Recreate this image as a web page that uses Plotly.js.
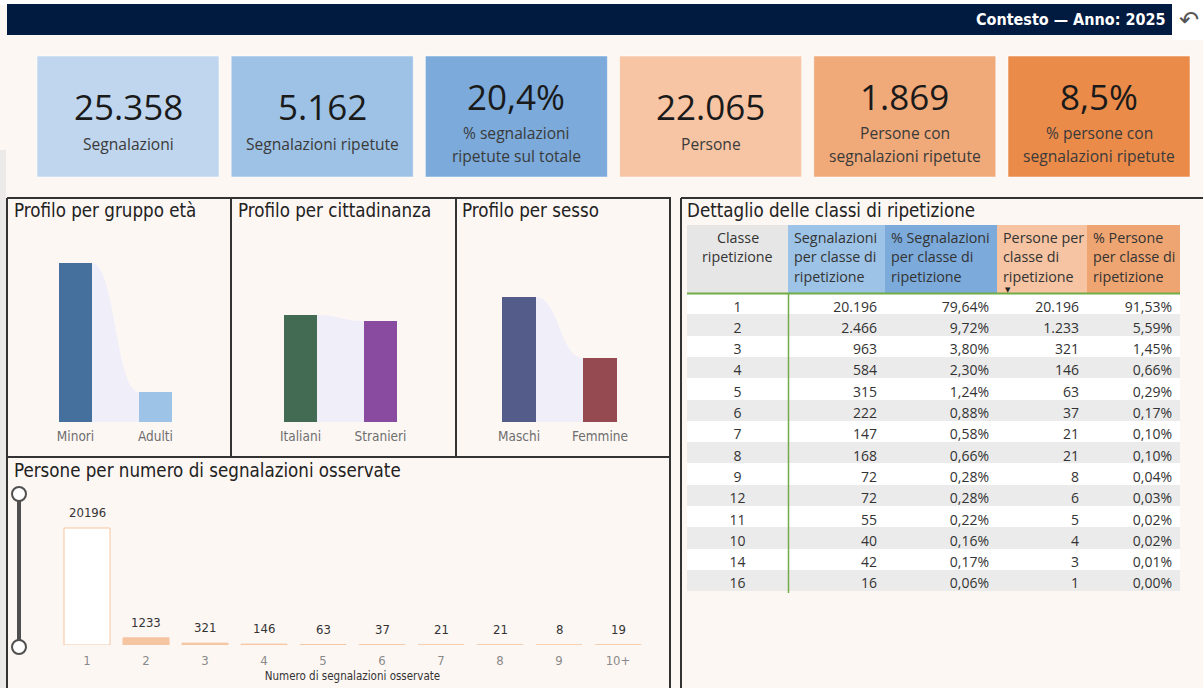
<!DOCTYPE html>
<html>
<head>
<meta charset="utf-8">
<script src="https://cdn.plot.ly/plotly-3.0.1.min.js"></script>
<style>
html,body{margin:0;padding:0;background:#FDF7F4;}
#chart{width:1203px;height:688px;}
</style>
</head>
<body>
<div id="chart"></div>
<script>
// ---------------- DATA ----------------
const headerTitle = 'Contesto — Anno: 2025';

const kpiValues = [25358, 5162, 20.4, 22065, 1869, 8.5];
const kpiKinds  = ['int', 'int', 'pct', 'int', 'int', 'pct'];
const kpiLabels = ['Segnalazioni', 'Segnalazioni ripetute', '% segnalazioni<br>ripetute sul totale',
                   'Persone', 'Persone con<br>segnalazioni ripetute', '% persone con<br>segnalazioni ripetute'];

const etaCat = ['Minori', 'Adulti'];
const etaVal = [18560, 3505];
const cittCat = ['Italiani', 'Stranieri'];
const cittVal = [12490, 11790];
const sessoCat = ['Maschi', 'Femmine'];
const sessoVal = [14590, 7475];

const nSegnCat = ['1', '2', '3', '4', '5', '6', '7', '8', '9', '10+'];
const personeNSegn = [20196, 1233, 321, 146, 63, 37, 21, 21, 8, 19];

const tableHeaders = ['Classe<br>ripetizione', 'Segnalazioni<br>per classe di<br>ripetizione',
                      '% Segnalazioni<br>per classe di<br>ripetizione', 'Persone per<br>classe di<br>ripetizione',
                      '% Persone<br>per classe di<br>ripetizione'];
const classi     = [1, 2, 3, 4, 5, 6, 7, 8, 9, 12, 11, 10, 14, 16];
const segnClasse = [20196, 2466, 963, 584, 315, 222, 147, 168, 72, 72, 55, 40, 42, 16];
const segnPct    = [79.64, 9.72, 3.80, 2.30, 1.24, 0.88, 0.58, 0.66, 0.28, 0.28, 0.22, 0.16, 0.17, 0.06];
const persClasse = [20196, 1233, 321, 146, 63, 37, 21, 21, 8, 6, 5, 4, 3, 1];
const persPct    = [91.53, 5.59, 1.45, 0.66, 0.29, 0.17, 0.10, 0.10, 0.04, 0.03, 0.02, 0.02, 0.01, 0.00];

// ---------------- HELPERS ----------------
const W = 1203, H = 688;
const X = px => px / W;
const Y = py => 1 - py / H;
const fmtInt = n => String(n).replace(/\B(?=(\d{3})+(?!\d))/g, '.');
const fmtPct = (p, d) => p.toFixed(d).replace('.', ',') + '%';

const COND = '"DejaVu Sans Condensed", "Liberation Sans Narrow", Roboto, sans-serif';
const UI = '"Open Sans", "Noto Sans", sans-serif';

const shapes = [];
const annotations = [];

// background & header
shapes.push({type:'rect', xref:'paper', yref:'paper', x0:0, x1:1, y0:Y(0), y1:Y(5), fillcolor:'#FFFFFF', line:{width:0}, layer:'below'});
shapes.push({type:'rect', xref:'paper', yref:'paper', x0:X(1172), x1:1, y0:Y(0), y1:Y(40), fillcolor:'#FFFFFF', line:{width:0}, layer:'below'});
shapes.push({type:'rect', xref:'paper', yref:'paper', x0:0, x1:X(6), y0:Y(150), y1:Y(688), fillcolor:'#ECEAE9', line:{width:0}, layer:'below'});
shapes.push({type:'rect', xref:'paper', yref:'paper', x0:X(7), x1:X(1172), y0:Y(4), y1:Y(35), fillcolor:'#011A40', line:{width:0}, layer:'below'});
annotations.push({xref:'paper', yref:'paper', x:X(1167), y:Y(19), xanchor:'right', yanchor:'middle', showarrow:false,
  text:'<b>' + headerTitle + '</b>', font:{family:COND, size:16, color:'#FFFFFF'}});
annotations.push({xref:'paper', yref:'paper', x:X(1189), y:Y(20), xanchor:'center', yanchor:'middle', showarrow:false,
  text:'↶', font:{family:'"DejaVu Sans", sans-serif', size:24, color:'#555555'}});

// KPI cards
const cardColors = ['#BFD6EE', '#9DC2E6', '#7BAADB', '#F7C5A4', '#F0A978', '#EA8B4A'];
const cardX0 = 37, cardW = 182, cardGap = 12.2, cardY0 = 56, cardY1 = 177;
kpiValues.forEach((v, i) => {
  const x0 = cardX0 + i * (cardW + cardGap);
  shapes.push({type:'rect', xref:'paper', yref:'paper', x0:X(x0), x1:X(x0 + cardW), y0:Y(cardY0), y1:Y(cardY1),
    fillcolor:cardColors[i], line:{width:1, color:'rgba(255,255,255,0.5)'}, layer:'below'});
  const lines = kpiLabels[i].split('<br>');
  const twoLine = lines.length > 1;
  const txt = kpiKinds[i] === 'pct' ? fmtPct(v, 1) : fmtInt(v);
  const cx = x0 + cardW / 2;
  annotations.push({xref:'paper', yref:'paper', x:X(cx), y:Y(twoLine ? 96 : 106.5), xanchor:'center', yanchor:'middle', showarrow:false,
    text:txt, font:{family:UI, size:35, color:'#1A1A1A'}});
  const ly = twoLine ? [133, 156] : [144];
  lines.forEach((ln, j) => annotations.push({xref:'paper', yref:'paper', x:X(cx), y:Y(ly[j]), xanchor:'center', yanchor:'middle', showarrow:false,
    text:ln, font:{family:UI, size:15.6, color:'#3A3A3A'}}));
});

// Panel borders
const BC = '#333333', BW = 2;
function hline(y, x0, x1){ shapes.push({type:'line', xref:'paper', yref:'paper', x0:X(x0), x1:X(x1), y0:Y(y), y1:Y(y), line:{color:BC, width:BW}}); }
function vline(x, y0, y1){ shapes.push({type:'line', xref:'paper', yref:'paper', x0:X(x), x1:X(x), y0:Y(y0), y1:Y(y1), line:{color:BC, width:BW}}); }
hline(198, 7, 671); vline(7, 198, 690); vline(231, 198, 457); vline(456, 198, 457); vline(670, 198, 690); hline(457, 7, 671);
hline(198, 681, 1205); vline(681, 198, 690);

// Panel titles
const titleFont = {family:COND, size:18.6, color:'#222222'};
[[12, 210, 'Profilo per gruppo età'], [236, 210, 'Profilo per cittadinanza'], [460, 210, 'Profilo per sesso'],
 [12, 470, 'Persone per numero di segnalazioni osservate'], [685, 210, 'Dettaglio delle classi di ripetizione']].forEach(t => {
  annotations.push({xref:'paper', yref:'paper', x:X(t[0]), y:Y(t[1]), xanchor:'left', yanchor:'middle', showarrow:false, text:t[2], font:titleFont});
});

// ---------------- PROFILE CHARTS ----------------
const profW = 0.41;
const profRange = [0, 21245];
const profiles = [
  {cat:etaCat, val:etaVal, colors:['#45709D', '#9DC3E6'], xc:[75.5, 155.5]},
  {cat:cittCat, val:cittVal, colors:['#436B54', '#884BA0'], xc:[300.5, 380.5]},
  {cat:sessoCat, val:sessoVal, colors:['#545D89', '#944A50'], xc:[519, 600]}
];
const traces = [];
const layoutAxes = {};
profiles.forEach((p, k) => {
  const n = k + 1;
  const xa = n === 1 ? 'x' : 'x' + n, ya = n === 1 ? 'y' : 'y' + n;
  const step = p.xc[1] - p.xc[0];
  const left = p.xc[0] - step / 2, right = p.xc[1] + step / 2;
  const idx = p.cat.map((_, i) => i);
  traces.push({type:'bar', x:idx, y:p.val, xaxis:xa, yaxis:ya, width:profW,
    marker:{color:p.colors, line:{width:0}}, hoverinfo:'x+y', showlegend:false});
  layoutAxes['xaxis' + (n === 1 ? '' : n)] = {domain:[X(left), X(right)], range:[-0.5, p.cat.length - 0.5], anchor:ya,
    tickvals:idx, ticktext:p.cat, showgrid:false, zeroline:false, showline:false, ticks:'outside', ticklen:2, tickcolor:'rgba(0,0,0,0)',
    tickfont:{family:COND, size:13.5, color:'#6E6E6E'}, fixedrange:true};
  layoutAxes['yaxis' + (n === 1 ? '' : n)] = {domain:[Y(422), Y(240)], range:profRange, anchor:xa, visible:false, fixedrange:true};
  // ribbon connecting the two bars
  const xa0 = idx[0] + profW / 2, xa1 = idx[1] - profW / 2, xm = (xa0 + xa1) / 2;
  const v0 = p.val[0], v1 = p.val[1];
  shapes.push({type:'path', xref:xa, yref:ya, layer:'below', fillcolor:'#F0EEF9', line:{width:0},
    path:`M ${xa0},0 L ${xa0},${v0} C ${xm},${v0} ${xm},${v1} ${xa1},${v1} L ${xa1},0 Z`});
});

// ---------------- BOTTOM CHART ----------------
const bIdx = nSegnCat.map((_, i) => i);
traces.push({type:'bar', x:bIdx, y:personeNSegn, xaxis:'x4', yaxis:'y4', width:0.78,
  marker:{color:personeNSegn.map((v, i) => i === 0 ? '#FFFFFF' : '#F5C4A1'), line:{color:'#F5C4A1', width:1}},
  hoverinfo:'x+y', showlegend:false});
personeNSegn.forEach((v, i) => annotations.push({xref:'x4', yref:'y4', x:bIdx[i], y:v, xanchor:'center', yanchor:'bottom',
  yshift:6, showarrow:false, text:String(v), font:{family:COND, size:13, color:'#333333'}}));
layoutAxes.xaxis4 = {domain:[X(57.5), X(647.5)], range:[-0.5, nSegnCat.length - 0.5], anchor:'y4',
  tickvals:bIdx, ticktext:nSegnCat, showgrid:false, zeroline:false, showline:false, ticks:'outside', ticklen:3, tickcolor:'rgba(0,0,0,0)',
  tickfont:{family:COND, size:13, color:'#8A8A8A'},
  title:{text:'Numero di segnalazioni osservate', font:{family:COND, size:11.5, color:'#333333'}, standoff:5}, fixedrange:true};
layoutAxes.yaxis4 = {domain:[Y(645), Y(500)], range:[0, 25029], anchor:'x4', visible:false, fixedrange:true};

// slider
shapes.push({type:'line', xref:'paper', yref:'paper', x0:X(19), x1:X(19), y0:Y(494), y1:Y(647), line:{color:'#4F4F4F', width:4}});
[494, 647].forEach(cy => shapes.push({type:'circle', xref:'paper', yref:'paper', x0:X(12), x1:X(26), y0:Y(cy - 7), y1:Y(cy + 7),
  fillcolor:'#FFFFFF', line:{color:'#4F4F4F', width:2}}));

// ---------------- TABLE ----------------
const colEdges = [687, 788, 885, 997, 1087, 1180];
const rowFill = classi.map((_, i) => i % 2 === 0 ? '#FFFFFF' : '#EBEBEB');
traces.push({type:'table',
  domain:{x:[X(colEdges[0]), X(colEdges[5])], y:[Y(640), Y(225)]},
  columnwidth:colEdges.slice(1).map((e, i) => e - colEdges[i]),
  header:{values:tableHeaders.map(() => ''),
    fill:{color:['#E6E6E6', '#9DC3E6', '#7BAADB', '#F6C4A2', '#EFA572']},
    line:{width:0}, height:68, font:{family:UI, size:13.5, color:'#333333'}},
  cells:{values:[classi.map(String), segnClasse.map(fmtInt), segnPct.map(p => fmtPct(p, 2)),
                 persClasse.map(fmtInt), persPct.map(p => fmtPct(p, 2))],
    align:['center', 'right', 'right', 'right', 'right'],
    fill:{color:[rowFill, rowFill, rowFill, rowFill, rowFill]},
    line:{width:0}, height:21.3, font:{family:UI, size:14, color:'#333333'}}
});
// header texts
tableHeaders.forEach((h, i) => {
  const lines = h.split('<br>');
  lines.forEach((ln, j) => annotations.push({xref:'paper', yref:'paper',
    x: i === 0 ? X((colEdges[0] + colEdges[1]) / 2) : X(colEdges[i] + 4),
    y: Y(237 + j * 19.5), xanchor: i === 0 ? 'center' : 'left', yanchor:'middle', showarrow:false,
    text:ln, font:{family:UI, size:14.3, color:'#333333'}}));
});
shapes.push({type:'line', xref:'paper', yref:'paper', x0:X(687), x1:X(1180), y0:Y(293.5), y1:Y(293.5), line:{color:'#70AD47', width:2}});
shapes.push({type:'line', xref:'paper', yref:'paper', x0:X(788.5), x1:X(788.5), y0:Y(293.5), y1:Y(593), line:{color:'#70AD47', width:1.5}});
annotations.push({xref:'paper', yref:'paper', x:X(1008), y:Y(289.5), xanchor:'center', yanchor:'middle', showarrow:false,
  text:'▼', font:{family:'"DejaVu Sans", sans-serif', size:7, color:'#222222'}});

const layout = Object.assign({
  width:W, height:H, margin:{l:0, r:0, t:0, b:0},
  paper_bgcolor:'#FDF7F4', plot_bgcolor:'rgba(0,0,0,0)',
  showlegend:false, shapes:shapes, annotations:annotations, bargap:0
}, layoutAxes);

Plotly.newPlot('chart', traces, layout, {displayModeBar:false, staticPlot:true});
</script>
</body>
</html>
